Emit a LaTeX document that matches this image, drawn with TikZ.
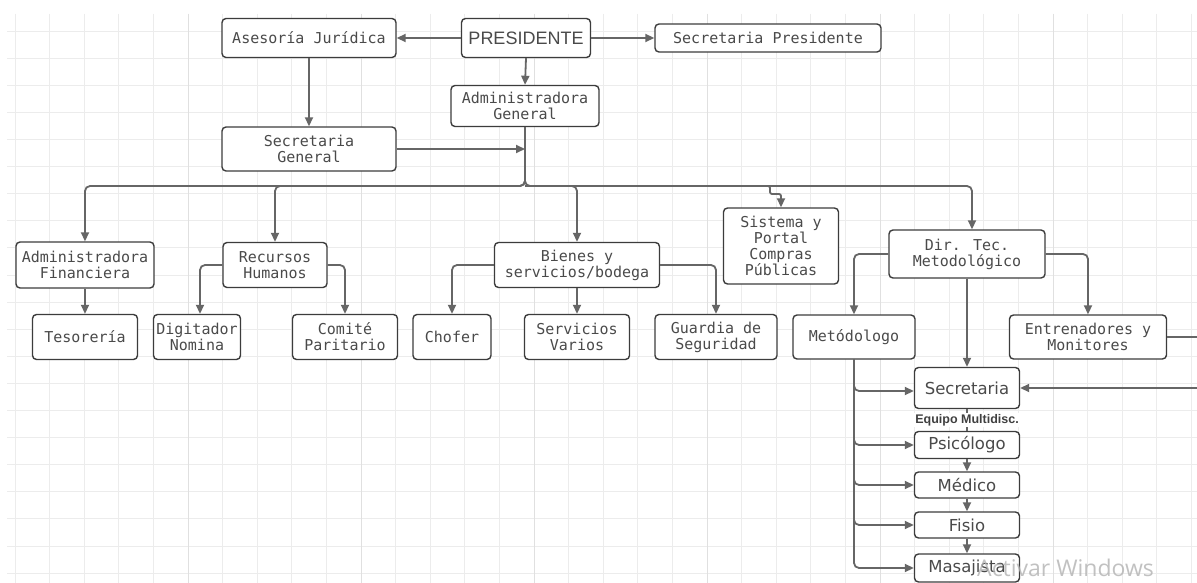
\documentclass[tikz,border=0pt]{standalone}
\usepackage{fontspec}
\usetikzlibrary{arrows.meta}
\newfontfamily\monof{DejaVu Sans Mono}
\newfontfamily\arialf{Liberation Sans}
\newfontfamily\dejaf{DejaVu Sans}
\newfontfamily\wmf{Open Sans}
\definecolor{boxc}{HTML}{3C3C3C}
\definecolor{linec}{HTML}{666666}
\definecolor{txtc}{HTML}{4A4A4A}
\definecolor{gridc}{HTML}{ECECEC}
\definecolor{gridd}{HTML}{E0E0E0}
\begin{document}
\begin{tikzpicture}[x=1pt,y=-1pt,
  box/.style={draw=boxc, line width=1.4pt, rounded corners=4pt, fill=white, text=txtc,
    align=center, inner sep=0pt, font=\monof\fontsize{15}{16}\selectfont},
  pbox/.style={box, font=\dejaf\fontsize{16.5}{17}\selectfont},
  conn/.style={draw=linec, line width=1.8pt, rounded corners=5pt},
  arr/.style={conn, -{Triangle[length=9pt,width=8pt]}}
]
\useasboundingbox (0,0) rectangle (1197,583);
\fill[white] (0,0) rectangle (1197,583);
% grid
\foreach \k in {0,...,34} {
  \pgfmathsetmacro{\xx}{15+34.6*\k}
  \draw[gridc, line width=0.9pt] (\xx,14) -- (\xx,583);
}
\foreach \k in {1,...,21} {
  \pgfmathsetmacro{\yy}{4+27.1*\k}
  \draw[gridc, line width=0.9pt] (7,\yy) -- (1197,\yy);
}
\foreach \k in {5,10,...,30} {
  \pgfmathsetmacro{\xx}{15+34.6*\k}
  \draw[gridd, line width=0.9pt] (\xx,14) -- (\xx,583);
}

% nodes
\node[box, minimum width=174, minimum height=39] (aj) at (309,38) {Asesoría Jurídica};
\node[box, minimum width=129, minimum height=39, font=\arialf\fontsize{18}{20}\selectfont] (pres) at (526,38) {PRESIDENTE};
\node[box, minimum width=226, minimum height=28] (sp) at (768,38) {Secretaria Presidente};
\node[box, minimum width=148, minimum height=41] (ag) at (525,106) {Administradora\\General};
\node[box, minimum width=174, minimum height=44] (sg) at (309,149) {Secretaria\\General};

\node[box, minimum width=138, minimum height=46] (af) at (85,265) {Administradora\\Financiera};
\node[box, minimum width=104, minimum height=45] (rh) at (275,265) {Recursos\\Humanos};
\node[box, minimum width=165, minimum height=45] (bs) at (577,265) {Bienes y\\servicios/bodega};
\node[box, minimum width=115, minimum height=76] (sis) at (781,246) {Sistema y\\Portal\\Compras\\Públicas};
\node[box, minimum width=156, minimum height=48] (dt) at (967,254) {Dir. Tec.\\Metodológico};

\node[box, minimum width=105, minimum height=45] (tes) at (85,337) {Tesorería};
\node[box, minimum width=87, minimum height=45] (dig) at (197,337) {Digitador\\Nomina};
\node[box, minimum width=105, minimum height=45] (com) at (345,337) {Comité\\Paritario};
\node[box, minimum width=78, minimum height=45] (cho) at (452,337) {Chofer};
\node[box, minimum width=105, minimum height=45] (sv) at (577,337) {Servicios\\Varios};
\node[box, minimum width=122, minimum height=45] (gs) at (716,337) {Guardia de\\Seguridad};
\node[box, minimum width=122, minimum height=44] (met) at (854,337) {Metódologo};
\node[box, minimum width=157, minimum height=44] (ent) at (1088,337) {Entrenadores y\\Monitores};

\node[pbox, minimum width=105, minimum height=41] (sec) at (967,388) {Secretaria};
\node[pbox, minimum width=105, minimum height=27] (psi) at (967,445) {Psicólogo};
\node[pbox, minimum width=105, minimum height=26] (med) at (967,485) {Médico};
\node[pbox, minimum width=105, minimum height=26] (fis) at (967,525) {Fisio};
\node[pbox, minimum width=105, minimum height=28] (mas) at (967,568) {Masajista};

% coordinates
\coordinate (j1) at (525,149);
\coordinate (bus) at (525,186);
\coordinate (sj1) at (770,186);
\coordinate (sj2) at (770,194);
\coordinate (sj3) at (781,194);
\coordinate (edgeA) at (1197,337);
\coordinate (edgeB) at (1197,388);

% connectors top
\draw[arr] (pres.west) -- (aj.east);
\draw[arr] (pres.east) -- (sp.west);
\draw[arr] (pres.south) -- (ag.north);
\draw[arr] (aj.south) -- (sg.north);
\draw[arr] (sg.east) -- (j1);

% bus
\draw[arr] (ag.south) -- (bus) -| (af.north);
\draw[arr] (ag.south) -- (bus) -| (rh.north);
\draw[arr] (ag.south) -- (bus) -| (bs.north);
\draw[arr, rounded corners=2pt] (bus) -- (sj1) -- (sj2) -- (sj3) -- (sis.north);
\draw[arr] (bus) -| ([xshift=5pt]dt.north);

% second level
\draw[arr] (af.south) -- (tes.north);
\draw[arr] (rh.west) -| ([xshift=3pt]dig.north);
\draw[arr] (rh.east) -| (com.north);
\draw[arr] (bs.west) -| (cho.north);
\draw[arr] (bs.south) -- (sv.north);
\draw[arr] (bs.east) -| (gs.north);
\draw[arr] (dt.west) -| (met.north);
\draw[arr] (dt.east) -| (ent.north);
\draw[arr] (dt.south) -- (sec.north);
\draw[conn] (ent.east) -- (edgeA);
\draw[arr] (edgeB) -- (sec.east);

% metodologo branches
\draw[arr] (met.south) |- ([yshift=-3pt]sec.west);
\draw[arr] (met.south) |- (psi.west);
\draw[arr] (met.south) |- (med.west);
\draw[arr] (met.south) |- (fis.west);
\draw[arr] (met.south) |- (mas.west);

% equipo chain
\draw[conn] (sec.south) -- (psi.north);
\node[fill=white, inner sep=1pt, text=black!75, font=\arialf\bfseries\fontsize{12.5}{14}\selectfont] (eq) at (967,420) {Equipo Multidisc.};
\draw[arr] (psi.south) -- (med.north);
\draw[arr] (med.south) -- (fis.north);
\draw[arr] (fis.south) -- (mas.north);

% watermark
\node[anchor=base west, inner sep=0pt, text=black!30, opacity=0.8, font=\wmf\fontsize{23}{26}\selectfont] (wm) at (977,576) {Activar Windows};
\end{tikzpicture}
\end{document}
